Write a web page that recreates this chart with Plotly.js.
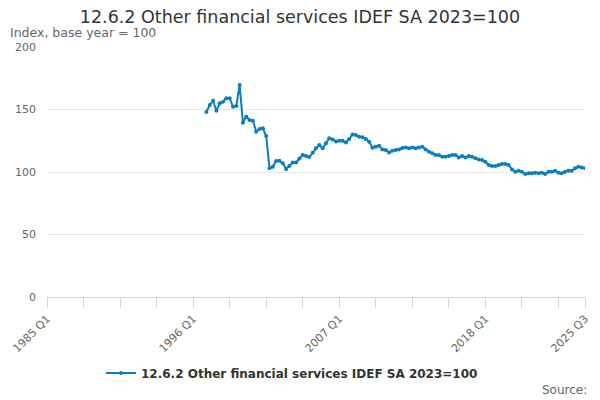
<!DOCTYPE html>
<html>
<head>
<meta charset="utf-8">
<script src="https://cdn.plot.ly/plotly-3.0.1.min.js"></script>
<style>
  body { margin: 0; background: #fff; }
  #chart { width: 600px; height: 400px; }
</style>
</head>
<body>
<div id="chart"></div>
<script>
// quarters from 1985 Q1 to 2025 Q3
const firstYear = 1985;
const lastYear = 2025;
const lastQuarter = 3;

// series starts 1997 Q1, index values
const startLabel = '1997 Q1';
const seriesValues = [
    148, 153.6, 157, 149,            // 1997
    155, 156.3, 159, 159,            // 1998
    152.3, 152.8, 169.6, 139.5,      // 1999
    144.3, 141.6, 141, 132.3,        // 2000
    134.4, 135, 128.8, 103,          // 2001
    104.3, 108.8, 109, 107,          // 2002
    102.4, 104.8, 107.7, 107.7,      // 2003
    110.9, 113.6, 112.8, 112,        // 2004
    115.5, 119, 121.6, 119,          // 2005
    123, 127, 126, 124.5,            // 2006
    125, 125, 123.7, 126.4,          // 2007
    130, 129.6, 128.3, 127.8,        // 2008
    126.4, 124.3, 119.5, 120.3,      // 2009
    121, 118.1, 117.6, 115.7,        // 2010
    117, 117.6, 118, 119.2,          // 2011
    119.6, 119, 119.7, 119,          // 2012
    119.7, 120.3, 118.1, 116.3,      // 2013
    115, 113.6, 113.6, 112.3,        // 2014
    112.3, 112.8, 113.6, 113.6,      // 2015
    111.7, 112.8, 111.7, 112.8,      // 2016
    112.3, 111, 110.1, 109.6,        // 2017
    108.3, 105.6, 104.8, 104.8,      // 2018
    105.6, 106.4, 106.4, 105.6,      // 2019
    102.1, 100.3, 101, 100.3,        // 2020
    98.4, 99, 99, 99.5,              // 2021
    99, 99.5, 98.4, 100.3,           // 2022
    100.3, 101, 99.5, 99,            // 2023
    100.3, 101, 101, 103,            // 2024
    104.3, 103.7, 103                // 2025
];

const labelledTicks = ['1985 Q1', '1996 Q1', '2007 Q1', '2018 Q1', '2025 Q3'];
const seriesName = '12.6.2 Other financial services IDEF SA 2023=100';

let quarters = [];
for (let y = firstYear; y <= lastYear; y++) {
    for (let q = 1; q <= 4; q++) {
        if (y == lastYear && q > lastQuarter) break;
        quarters.push(y + ' Q' + q);
    }
}

const startIdx = quarters.indexOf(startLabel);
const xData = quarters.slice(startIdx, startIdx + seriesValues.length);

// a tick every 11 quarters plus the last one, text only on some
let tickVals = [];
for (let i = 0; i < quarters.length; i += 11) tickVals.push(quarters[i]);
tickVals.push(quarters[quarters.length - 1]);
const tickText = tickVals.map(v => labelledTicks.includes(v) ? v : '');

const fontFam = 'DejaVu Sans, sans-serif';

const trace = {
    type: 'scatter',
    mode: 'lines+markers',
    name: seriesName,
    x: xData,
    y: seriesValues,
    line: { color: '#0b7dc1', width: 2 },
    marker: { color: '#0b7dc1', size: 4 },
    hoverinfo: 'x+y'
};

const layout = {
    width: 600,
    height: 400,
    margin: { l: 47, r: 15, t: 47, b: 103 },
    paper_bgcolor: '#fff',
    plot_bgcolor: '#fff',
    font: { family: fontFam, color: '#666', size: 11 },
    title: {
        text: '12.6.2 Other financial services IDEF SA 2023=100',
        font: { family: fontFam, size: 17.5, color: '#333' },
        x: 0.5, xanchor: 'center',
        y: 1 - 17 / 400, yanchor: 'middle'
    },
    xaxis: {
        type: 'category',
        categoryorder: 'array',
        categoryarray: quarters,
        range: [0, quarters.length - 1],
        tickmode: 'array',
        tickvals: tickVals,
        ticktext: tickText,
        tickangle: -45,
        ticks: 'outside',
        ticklen: 10,
        tickcolor: '#ccd6eb',
        showline: true,
        linecolor: '#ccd6eb',
        linewidth: 1,
        showgrid: false,
        zeroline: false,
        tickfont: { family: fontFam, size: 11, color: '#666' }
    },
    yaxis: {
        range: [0, 200],
        dtick: 50,
        tick0: 0,
        gridcolor: '#e6e6e6',
        zeroline: false,
        showline: false,
        ticks: '',
        ticklabelstandoff: 10,
        tickfont: { family: fontFam, size: 11, color: '#666' }
    },
    showlegend: true,
    legend: {
        orientation: 'h',
        x: 0.5 - 24 / 538, xanchor: 'center',
        y: -0.304, yanchor: 'middle',
        font: { family: fontFam, size: 12, color: '#333', weight: 'bold' },
        itemwidth: 30
    },
    annotations: [
        {
            text: 'Index, base year = 100',
            xref: 'paper', yref: 'paper',
            x: -39 / 538, xanchor: 'left',
            y: 1 + 14 / 250, yanchor: 'middle',
            showarrow: false,
            font: { family: fontFam, size: 12.5, color: '#666' }
        },
        {
            text: 'Source:',
            xref: 'paper', yref: 'paper',
            x: 1 + 4 / 538, xanchor: 'right',
            y: -93 / 250, yanchor: 'middle',
            showarrow: false,
            font: { family: fontFam, size: 12, color: '#666' }
        }
    ]
};

Plotly.newPlot('chart', [trace], layout, { displayModeBar: false, staticPlot: true });
</script>
</body>
</html>
